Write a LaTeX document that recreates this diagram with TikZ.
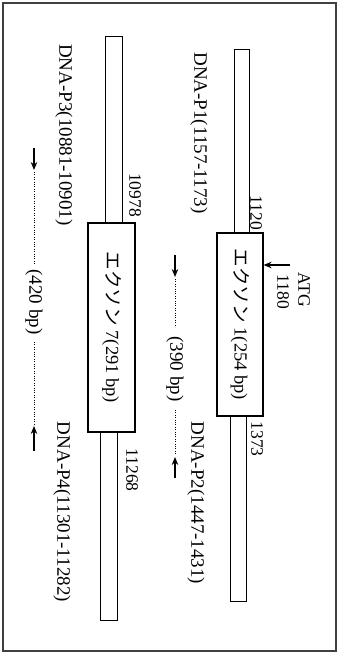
\documentclass[tikz,border=0pt]{standalone}
\usepackage{fontspec}
\setmainfont{Liberation Serif}
\newfontfamily\jp{Noto Sans CJK JP}
\usetikzlibrary{arrows.meta}
\begin{document}
\begin{tikzpicture}[x=1pt,y=-1pt,
  bar/.style={draw, line width=1pt, inner sep=0pt, fill=white},
  exon/.style={draw, line width=1.1pt, inner sep=0pt, fill=white, rotate=-90, font=\fontsize{18.5}{20}\selectfont},
  lbl/.style={rotate=-90, inner sep=0pt, font=\fontsize{19}{21}\selectfont},
  num/.style={rotate=-90, inner sep=0pt, font=\fontsize{17.5}{19}\selectfont},
  primer/.style={line width=1.6pt, -{Stealth[length=8pt,width=6.5pt]}},
  dots/.style={line width=1pt, dash pattern=on 1pt off 1.4pt}
]
\useasboundingbox (0,0) rectangle (338,653);
\draw[line width=1.2pt, black!75] (3,3) rectangle (336,651);

% upper gene (exon 1)
\node[bar, minimum width=15pt, minimum height=184pt] (b1u) at (241.5,141) {};
\node[bar, minimum width=16pt, minimum height=185pt] (b1d) at (238,508.5) {};
\node[exon, minimum width=183pt, minimum height=46pt] (e1) at (240,324.5) {{\jp エクソン} 1(254 bp)};
\node[num] (n1120) at (256,213) {1120};
\node[num] (n1373) at (257,439) {1373};
\node[num] (n1180) at (283,292) {1180};
\node[lbl, font=\fontsize{17.5}{19}\selectfont] (atg) at (304,290) {ATG};
\coordinate (atg0) at (290,265);
\draw[line width=1.5pt, -{Stealth[length=8pt,width=6.5pt]}] (atg0) -- (e1.north |- atg0);
\node[lbl] (p1) at (199,133) {DNA-P1(1157-1173)};
\node[lbl] (p2) at (196,503) {DNA-P2(1447-1431)};

% primers row 1
\coordinate (r1a) at (175,255);
\coordinate (r1b) at (175,277);
\coordinate (r1c) at (175,327);
\coordinate (r1d) at (175,410);
\coordinate (r1e) at (175,457);
\coordinate (r1f) at (175,478);
\draw[primer] (r1a) -- (r1b);
\draw[dots] ([yshift=-2pt]r1b) -- (r1c);
\node[lbl] (s1) at (175,369) {(390 bp)};
\draw[dots] (r1d) -- ([yshift=2pt]r1e);
\draw[primer] (r1f) -- (r1e);

% lower gene (exon 7)
\node[bar, minimum width=17pt, minimum height=187pt] (b2u) at (113.5,129.5) {};
\node[bar, minimum width=17pt, minimum height=188pt] (b2d) at (108.5,526) {};
\node[exon, minimum width=209pt, minimum height=47pt] (e7) at (111.5,327.5) {{\jp エクソン} 7(291 bp)};
\node[num] (n10978) at (135,195) {10978};
\node[num] (n11268) at (132,470) {11268};
\node[lbl] (p3) at (64,135) {DNA-P3(10881-10901)};
\node[lbl] (p4) at (62,512) {DNA-P4(11301-11282)};

% primers row 2
\coordinate (r2a) at (34,148);
\coordinate (r2b) at (34,170);
\coordinate (r2c) at (34,265);
\coordinate (r2d) at (34,342);
\coordinate (r2e) at (34,426);
\coordinate (r2f) at (34,451);
\draw[primer] (r2a) -- (r2b);
\draw[dots] ([yshift=-2pt]r2b) -- (r2c);
\node[lbl] (s2) at (34,302) {(420 bp)};
\draw[dots] (r2d) -- ([yshift=2pt]r2e);
\draw[primer] (r2f) -- (r2e);
\end{tikzpicture}
\end{document}
